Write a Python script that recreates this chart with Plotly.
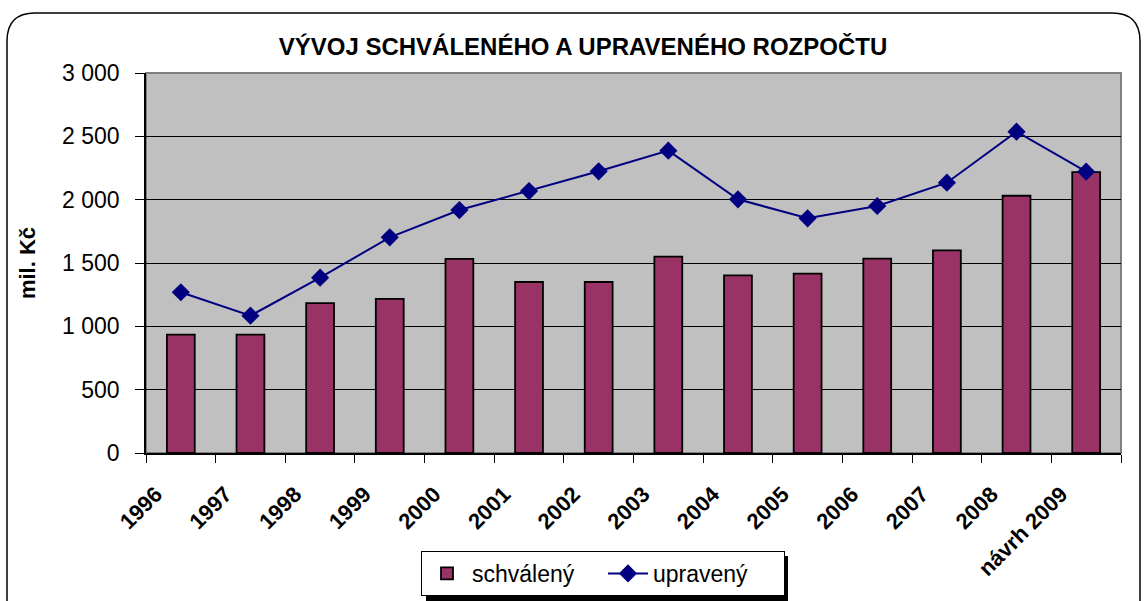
import plotly.graph_objects as go

categories = ["1996", "1997", "1998", "1999", "2000", "2001", "2002", "2003",
              "2004", "2005", "2006", "2007", "2008", "návrh 2009"]
schvaleny = [934, 934, 1184, 1216, 1532, 1350, 1350, 1550, 1403, 1416, 1534, 1600, 2031, 2218]
upraveny = [1269, 1084, 1384, 1703, 1918, 2068, 2224, 2387, 2003, 1853, 1950, 2134, 2537, 2221]

W, H = 1147, 601
L, R, T, B = 146, 1121, 73, 453

def px(x):
    return (x - L) / (R - L)

def py(y):
    return (B - y) / (B - T)

FONT = "Arial, Liberation Sans, sans-serif"

fig = go.Figure()
fig.add_trace(go.Bar(
    x=categories, y=schvaleny, name="schválený",
    marker=dict(color="#993366", line=dict(color="#000000", width=1.8)),
))
fig.add_trace(go.Scatter(
    x=categories, y=upraveny, name="upravený", mode="lines+markers",
    line=dict(color="#000080", width=2),
    marker=dict(symbol="diamond", size=14, color="#000080"),
))

# outer rounded border
x0, x1, y0, y1, r = 7, 1140, 13, 612, 28
path = (f"M {px(x0)},{py(y1)} L {px(x0)},{py(y0 + r)} "
        f"Q {px(x0)},{py(y0)} {px(x0 + r)},{py(y0)} "
        f"L {px(x1 - r)},{py(y0)} Q {px(x1)},{py(y0)} {px(x1)},{py(y0 + r)} "
        f"L {px(x1)},{py(y1)}")
shapes = [
    dict(type="path", xref="paper", yref="paper", path=path,
         line=dict(color="#000000", width=1.5), layer="below"),
    # plot area border
    dict(type="rect", xref="paper", yref="paper", x0=0, x1=1, y0=0, y1=1,
         line=dict(color="#808080", width=2), layer="below"),
    # legend shadow
    dict(type="rect", xref="paper", yref="paper",
         x0=px(426), x1=px(788), y0=py(601), y1=py(556),
         fillcolor="#000000", line=dict(width=0), layer="below"),
]

fig.update_layout(
    width=W, height=H,
    margin=dict(l=L, r=W - R, t=T, b=H - B, autoexpand=False),
    paper_bgcolor="#ffffff",
    plot_bgcolor="#c0c0c0",
    separators=", ",
    bargap=0.6,
    font=dict(family=FONT, color="#000000"),
    title=dict(text="<b>VÝVOJ SCHVÁLENÉHO A UPRAVENÉHO ROZPOČTU</b>",
               x=583 / W, xanchor="center", y=1 - 47 / H, yanchor="middle",
               font=dict(size=24, family=FONT, color="#000000")),
    shapes=shapes,
    showlegend=True,
    legend=dict(orientation="h", xref="container", yref="container",
                x=421 / W, y=1 - 551 / H, xanchor="left", yanchor="top",
                bgcolor="#ffffff", bordercolor="#000000", borderwidth=1,
                font=dict(size=23, family=FONT, color="#000000"),
                entrywidth=126, itemwidth=40, traceorder="normal"),
)
fig.update_xaxes(
    type="category", tickangle=-45, automargin=False, range=[-0.5, 13.5],
    tickfont=dict(size=22, family=FONT, color="#000000"),
    tickprefix="<b>", ticksuffix="</b>",
    ticklabelshift=-25, ticklabelstandoff=18,
    ticks="outside", tickson="boundaries", ticklen=8, tickcolor="#000000",
    showline=True, linecolor="#000000", linewidth=1.5, showgrid=False,
)
fig.update_yaxes(
    range=[0, 3000], dtick=500, tickformat=",d", automargin=False,
    tickfont=dict(size=23, family=FONT, color="#000000"),
    ticks="outside", ticklen=9, tickcolor="#000000", ticklabelstandoff=11,
    showline=True, linecolor="#000000", linewidth=1.5,
    showgrid=True, gridcolor="#000000", gridwidth=1, zeroline=False,
    title=dict(text="<b>mil. Kč</b>", font=dict(size=22, family=FONT, color="#000000"),
               standoff=20),
)

fig.write_html("out.html", config={"displayModeBar": False},
               post_script="document.body.style.margin='0px';")
